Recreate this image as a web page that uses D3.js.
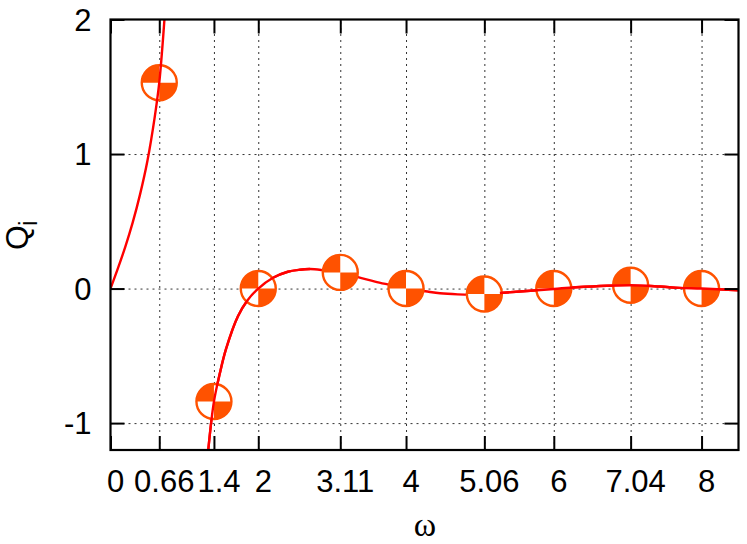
<!DOCTYPE html>
<html>
<head>
<meta charset="utf-8">
<script src="https://cdn.jsdelivr.net/npm/d3@7"></script>
<style>
  html, body { margin: 0; padding: 0; background: #fff; }
  svg { display: block; }
  text { font-family: "Liberation Sans", Arial, sans-serif; fill: #000; }
</style>
</head>
<body>
<div id="chart"></div>
<script>
// values
const xTicks = [0, 0.66, 1.4, 2, 3.11, 4, 5.06, 6, 7.04, 8];
const yTicks = [-1, 0, 1, 2];

const pointOmega = [0.66, 1.4, 2, 3.11, 4, 5.06, 6, 7.04, 8];
const pointQ = [1.53, -0.84, 0, 0.12, 0, -0.04, 0, 0.025, 0];

const lowOmega = [0, 0.1, 0.2, 0.3, 0.4, 0.5, 0.6, 0.66, 0.7, 0.73];
const lowQ = [0, 0.15, 0.31, 0.49, 0.7, 0.95, 1.28, 1.53, 1.78, 2];

const highOmega = [1.323, 1.4, 1.48, 1.563, 1.725, 1.85, 2, 2.2, 2.4, 2.564, 2.7, 2.86, 3.11, 3.35, 3.58, 3.8, 4, 4.26, 4.46, 4.7, 4.9, 5.06, 5.27, 5.54, 6, 6.3, 7.04, 7.44, 7.7, 8, 8.5];
const highQ = [-1.2, -0.84, -0.63, -0.45, -0.205, -0.09, 0, 0.08, 0.125, 0.14, 0.145, 0.137, 0.115, 0.085, 0.052, 0.025, 0, -0.02, -0.035, -0.043, -0.045, -0.042, -0.033, -0.022, -0.003, 0.01, 0.025, 0.015, 0.005, 0, -0.013];

const width = 747;
const height = 544;
const margin = { top: 19.5, right: 8.5, bottom: 94, left: 110.5 };
const innerW = width - margin.left - margin.right;
const innerH = height - margin.top - margin.bottom;

const x = d3.scaleLinear().domain([0, 8.5]).range([0, innerW]);
const y = d3.scaleLinear().domain([-1.2, 2]).range([innerH, 0]);

const svg = d3.select('#chart').append('svg')
    .attr('width', width)
    .attr('height', height);

svg.append('defs').append('clipPath')
    .attr('id', 'plot-clip')
  .append('rect')
    .attr('width', innerW)
    .attr('height', innerH);

const g = svg.append('g')
    .attr('transform', 'translate(' + margin.left + ',' + margin.top + ')');

// dotted grid
const gridX = g.append('g')
    .attr('transform', 'translate(0,' + innerH + ')')
    .call(d3.axisBottom(x).tickValues(xTicks.slice(1)).tickSize(-innerH).tickFormat(''));
const gridY = g.append('g')
    .call(d3.axisLeft(y).tickValues(yTicks.slice(0, 3)).tickSize(-innerW).tickFormat(''));
[gridX, gridY].forEach((grid) => {
  grid.select('.domain').remove();
  grid.selectAll('line')
      .attr('stroke', '#333')
      .attr('stroke-width', 1)
      .attr('stroke-dasharray', '2,4');
});

const line = d3.line()
    .x((d) => x(d.omega))
    .y((d) => y(d.q))
    .curve(d3.curveCatmullRom.alpha(0.5));

const zip = (omegas, qs) => omegas.map((omega, i) => ({ omega: omega, q: qs[i] }));
const lowCurve = zip(lowOmega, lowQ);
const highCurve = zip(highOmega, highQ);

const plot = g.append('g').attr('clip-path', 'url(#plot-clip)');

function drawCurve(data) {
  plot.append('path')
      .datum(data)
      .attr('d', line)
      .attr('fill', 'none')
      .attr('stroke', '#ff0000')
      .attr('stroke-width', 2.4);
}

// the middle stretch of the curve runs under the markers, the rest over them
drawCurve(highCurve);

const markerColor = '#ff5200';
const markerRadius = 17.5;
const quadrant = d3.arc().innerRadius(0).outerRadius(markerRadius);

const markers = plot.append('g')
  .selectAll('g')
  .data(zip(pointOmega, pointQ))
  .enter().append('g')
    .attr('transform', (d) => 'translate(' + x(d.omega) + ',' + y(d.q) + ')');

markers.append('circle')
    .attr('r', markerRadius)
    .attr('fill', '#fff')
    .attr('stroke', markerColor)
    .attr('stroke-width', 2.4);
markers.append('path')
    .attr('d', quadrant({ startAngle: -Math.PI / 2, endAngle: 0 }))
    .attr('fill', markerColor);
markers.append('path')
    .attr('d', quadrant({ startAngle: Math.PI / 2, endAngle: Math.PI }))
    .attr('fill', markerColor);

drawCurve(lowCurve);
drawCurve(highCurve.filter((d) => d.omega <= 2.7));
drawCurve(highCurve.filter((d) => d.omega >= 5.27));

// inward ticks on all four sides
function styleTicks(axis) {
  axis.select('.domain').remove();
  axis.selectAll('line').attr('stroke', '#000').attr('stroke-width', 2);
}

const xAxis = g.append('g')
    .attr('transform', 'translate(0,' + innerH + ')')
    .call(d3.axisBottom(x).tickValues(xTicks).tickSize(-14).tickPadding(0).tickFormat((d) => d));
styleTicks(xAxis);
xAxis.selectAll('text')
    .attr('font-size', 31)
    .attr('font-family', '"Liberation Sans", Arial, sans-serif')
    .attr('dx', 4.5)
    .attr('y', 41.5)
    .attr('dy', 0);

const yAxis = g.append('g')
    .call(d3.axisLeft(y).tickValues(yTicks).tickSize(-14).tickPadding(0).tickFormat((d) => d));
styleTicks(yAxis);
yAxis.selectAll('text')
    .attr('font-size', 31)
    .attr('font-family', '"Liberation Sans", Arial, sans-serif')
    .attr('x', -19)
    .attr('dy', 10.5);

styleTicks(g.append('g')
    .call(d3.axisTop(x).tickValues(xTicks).tickSize(-14).tickFormat('')));
styleTicks(g.append('g')
    .attr('transform', 'translate(' + innerW + ',0)')
    .call(d3.axisRight(y).tickValues(yTicks).tickSize(-14).tickFormat('')));

// frame
g.append('rect')
    .attr('width', innerW)
    .attr('height', innerH)
    .attr('fill', 'none')
    .attr('stroke', '#000')
    .attr('stroke-width', 2.2);

// axis titles
svg.append('text')
    .attr('x', 425)
    .attr('y', 536)
    .attr('text-anchor', 'middle')
    .attr('font-size', 34)
    .style('font-family', '"Liberation Serif", serif')
    .text('ω');

svg.append('text')
    .attr('transform', 'translate(28,250) rotate(-90)')
    .attr('font-size', 32)
    .text('Q');
svg.append('text')
    .attr('transform', 'translate(37,226) rotate(-90)')
    .attr('font-size', 25)
    .text('i');
</script>
</body>
</html>
